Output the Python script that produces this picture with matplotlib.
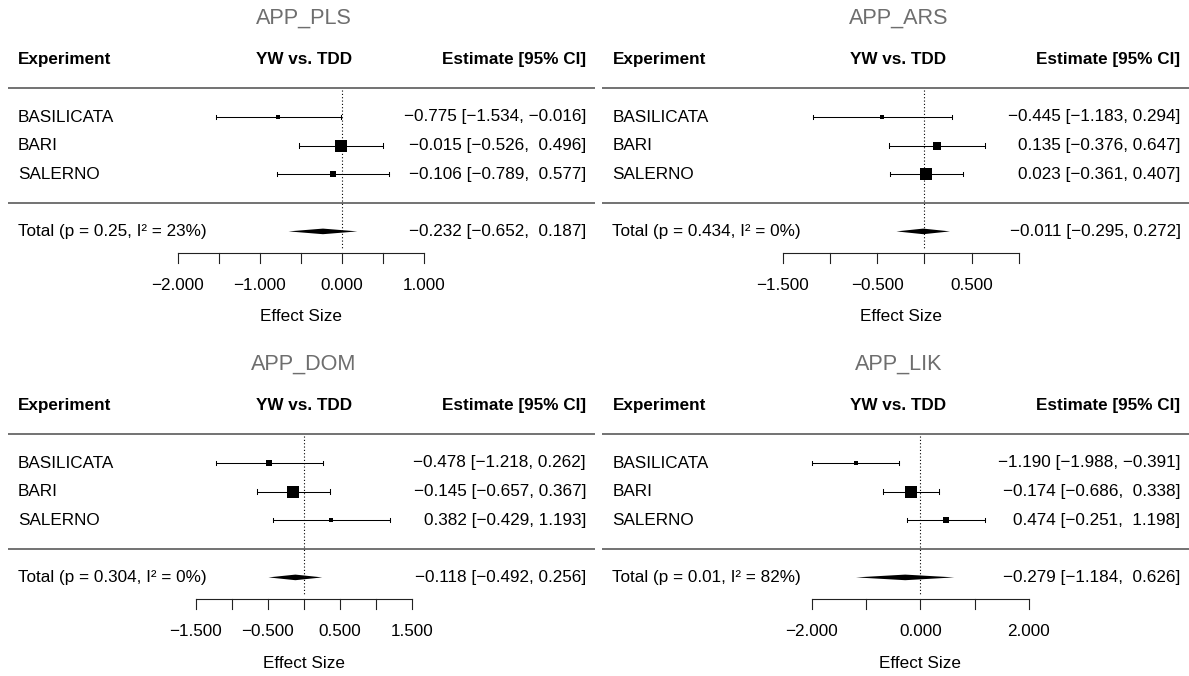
import numpy as np
import matplotlib
matplotlib.use("Agg")
import matplotlib.pyplot as plt

plt.rcParams['font.family'] = ['Liberation Sans', 'DejaVu Sans']

# data
studies = ['BASILICATA', 'BARI', 'SALERNO']
titles = ['APP_PLS', 'APP_ARS', 'APP_DOM', 'APP_LIK']

est = [[-0.775, -0.015, -0.106],
       [-0.445, 0.135, 0.023],
       [-0.478, -0.145, 0.382],
       [-1.190, -0.174, 0.474]]
lower = [[-1.534, -0.526, -0.789],
         [-1.183, -0.376, -0.361],
         [-1.218, -0.657, -0.429],
         [-1.988, -0.686, -0.251]]
upper = [[-0.016, 0.496, 0.577],
         [0.294, 0.647, 0.407],
         [0.262, 0.367, 1.193],
         [-0.391, 0.338, 1.198]]

tot_est = [-0.232, -0.011, -0.118, -0.279]
tot_lower = [-0.652, -0.295, -0.492, -1.184]
tot_upper = [0.187, 0.272, 0.256, 0.626]
p_vals = [0.25, 0.434, 0.304, 0.01]
i2_vals = [23, 0, 0, 82]

# axis limits and tick steps
alims = [(-2.0, 1.0), (-1.5, 1.0), (-1.5, 1.5), (-2.0, 2.0)]
steps = [0.5, 0.5, 0.5, 1.0]

# layout (pixels)
W, H = 1189, 676
PW = W / 2.0
PH = 330
ROW = 28.6      # px per row
ROW0 = 117      # px of first study row inside panel
# pixel position of the axis ends inside each panel
axis_px = [(178, 424), (188.2, 424.2), (196, 411.7), (217.2, 434.5)]
panel_origin = [(0, 0), (PW, 0), (0, 346), (PW, 346)]

fs = 12.3


def fmt(v):
    return '{:.3f}'.format(v).replace('-', '\u2212')


fig = plt.figure(figsize=(W / 100, H / 100), dpi=100)

for k in range(4):
    x0, y0 = panel_origin[k]
    ax = fig.add_axes([x0 / W, 1 - (y0 + PH) / H, PW / W, PH / H])
    ax.axis('off')

    a0, a1 = alims[k]
    p0, p1 = axis_px[k]
    s = (p1 - p0) / (a1 - a0)
    xmin = a0 - p0 / s
    ax.set_xlim(xmin, xmin + PW / s)
    ax.set_ylim((PH - ROW0) / ROW, -ROW0 / ROW)

    def px(p):
        return xmin + p / s

    def row(p):
        return (p - ROW0) / ROW

    xl, xr, xm = px(18), px(586), px(304)

    # titles and headers
    ax.text(xm, row(18), titles[k], ha='center', va='center', fontsize=15.6, color='#6e6e6e')
    ax.text(xl, -2, 'Experiment', ha='left', va='center', fontsize=fs, fontweight='bold')
    ax.text(xm, -2, 'YW vs. TDD', ha='center', va='center', fontsize=fs, fontweight='bold')
    ax.text(xr, -2, 'Estimate [95% CI]', ha='right', va='center', fontsize=fs, fontweight='bold')

    # separators
    for r in [-1, 3]:
        ax.plot([px(8), px(595)], [r, r], color='#5a5a5a', lw=1.2, solid_capstyle='butt')

    # reference line at zero
    ax.plot([0, 0], [-0.95, row(248)], color='black', lw=0.8, ls=(0, (1, 2)))

    e = np.array(est[k])
    lo = np.array(lower[k])
    hi = np.array(upper[k])
    se = (hi - lo) / (2 * 1.96)
    w = 1 / se
    psize = 0.5 + (w - w.min()) / (w.max() - w.min())

    pad_hi = min(hi.min(), tot_upper[k]) < 0
    pad_lo = max(lo.max(), tot_lower[k]) >= 0 and min(lo.min(), tot_lower[k]) < 0

    def ci_text(m, l, u):
        ls = fmt(l)
        us = fmt(u)
        if pad_lo and l >= 0:
            ls = ' ' + ls
        if pad_hi and u >= 0:
            us = ' ' + us
        return '{} [{}, {}]'.format(fmt(m), ls, us)

    cap = 2.2 / ROW
    for i in range(len(studies)):
        ax.plot([lo[i], hi[i]], [i, i], color='black', lw=0.75)
        ax.plot([lo[i], lo[i]], [i - cap, i + cap], color='black', lw=0.75)
        ax.plot([hi[i], hi[i]], [i - cap, i + cap], color='black', lw=0.75)
        ax.plot(e[i], i, marker='s', color='black', ms=8.2 * psize[i] * 0.72, mew=0)
        ax.text(xl, i, studies[i], ha='left', va='center', fontsize=fs)
        ax.text(xr, i, ci_text(e[i], lo[i], hi[i]), ha='right', va='center', fontsize=fs)

    # pooled estimate
    h = 2.8 / ROW
    ax.fill([tot_lower[k], tot_est[k], tot_upper[k], tot_est[k]],
            [4, 4 - h, 4, 4 + h], color='black', lw=0)
    ax.text(xl, 4, 'Total (p = {:g}, I\u00b2 = {}%)'.format(p_vals[k], i2_vals[k]),
            ha='left', va='center', fontsize=fs)
    ax.text(xr, 4, ci_text(tot_est[k], tot_lower[k], tot_upper[k]),
            ha='right', va='center', fontsize=fs)

    # x axis
    ya, yt = row(253), row(263)
    ticks = np.arange(a0, a1 + steps[k] / 2, steps[k])
    ax.plot([a0, a1], [ya, ya], color='#222222', lw=0.8)
    for j, t in enumerate(ticks):
        ax.plot([t, t], [ya, yt], color='#222222', lw=0.8)
        if j % 2 == 0:
            ax.text(t, row(285.5), fmt(t), ha='center', va='center', fontsize=fs)
    ax.text((a0 + a1) / 2, row(317), 'Effect Size', ha='center', va='center', fontsize=fs)

fig.savefig('out.png', dpi=100)
